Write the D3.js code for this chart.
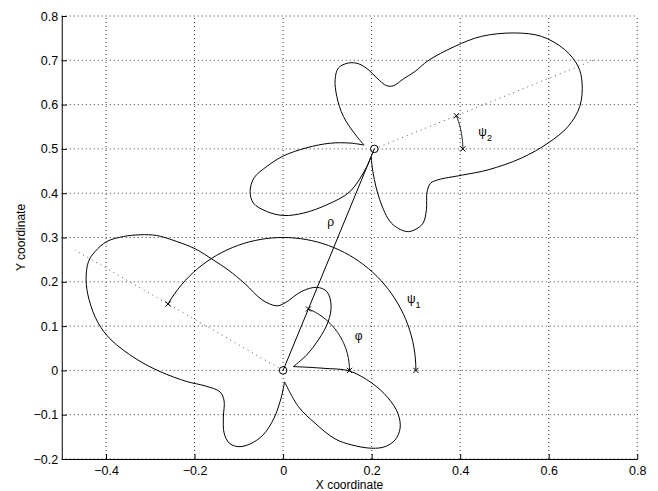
<!DOCTYPE html>
<html>
<head>
<meta charset="utf-8">
<script src="https://cdn.jsdelivr.net/npm/d3@7"></script>
<style>
body { margin: 0; background: #fff; }
text { font-family: "Liberation Sans", Arial, Helvetica, sans-serif; fill: #000; }
</style>
</head>
<body>
<div id="chart"></div>
<script>
var width = 658,
    height = 491;

// axis ticks
var xTicks = [-0.4, -0.2, 0, 0.2, 0.4, 0.6, 0.8];
var yTicks = [-0.2, -0.1, 0, 0.1, 0.2, 0.3, 0.4, 0.5, 0.6, 0.7, 0.8];

// pattern round (0,0): null A -> lower lobe -> main lobe -> small lobe -> null B
var pattern1Main = [
  [0.0034, -0.0260], [-0.0045, -0.0621], [-0.0203, -0.1073], [-0.0452, -0.1457],
  [-0.0745, -0.1660], [-0.1016, -0.1721], [-0.1220, -0.1638], [-0.1333, -0.1412],
  [-0.1349, -0.1050], [-0.1333, -0.0689], [-0.1423, -0.0486], [-0.1762, -0.0350],
  [-0.2169, -0.0253], [-0.2778, -0.0027], [-0.3321, 0.0260], [-0.3885, 0.0689],
  [-0.4179, 0.1073], [-0.4382, 0.1593], [-0.4450, 0.2044], [-0.4398, 0.2451],
  [-0.4247, 0.2684], [-0.3982, 0.2909], [-0.3607, 0.3022], [-0.3230, 0.3061],
  [-0.2853, 0.3045], [-0.2401, 0.2909], [-0.1988, 0.2745], [-0.1581, 0.2496],
  [-0.1242, 0.2270], [-0.0858, 0.1954], [-0.0474, 0.1593], [-0.0142, 0.1457],
  [0.0045, 0.1525], [0.0422, 0.1785], [0.0761, 0.1875], [0.0987, 0.1780],
  [0.1084, 0.1480], [0.1017, 0.1096], [0.0797, 0.0689], [0.0535, 0.0350],
  [0.0233, 0.0086]
];
// null B -> lower right lobe -> null A
var pattern1Side = [
  [0.0233, 0.0086], [0.0610, 0.0068], [0.0949, 0.0045], [0.1491, -0.0011],
  [0.1999, -0.0282], [0.2372, -0.0621], [0.2598, -0.0983], [0.2643, -0.1306],
  [0.2530, -0.1570], [0.2304, -0.1721], [0.2004, -0.1757], [0.1552, -0.1683],
  [0.1175, -0.1547], [0.0723, -0.1193], [0.0346, -0.0818], [0.0034, -0.0260]
];

// pattern round (0.206,0.5): null C -> upper lobe -> main lobe -> lower lobe -> null D
var pattern2Main = [
  [0.1830, 0.5087], [0.1665, 0.5281], [0.1362, 0.5733], [0.1213, 0.6185],
  [0.1175, 0.6562], [0.1249, 0.6826], [0.1475, 0.6939], [0.1701, 0.6923],
  [0.1927, 0.6788], [0.2117, 0.6601], [0.2342, 0.6426], [0.2492, 0.6426],
  [0.2717, 0.6578], [0.2982, 0.6750], [0.3275, 0.6991], [0.3879, 0.7314],
  [0.4479, 0.7540], [0.5234, 0.7617], [0.5835, 0.7540], [0.6363, 0.7240],
  [0.6664, 0.6863], [0.6754, 0.6487], [0.6702, 0.5959], [0.6438, 0.5507],
  [0.5986, 0.5132], [0.5383, 0.4793], [0.4631, 0.4527], [0.4028, 0.4405],
  [0.3501, 0.4303], [0.3332, 0.4224], [0.3253, 0.4032], [0.3237, 0.3625],
  [0.3162, 0.3325], [0.2975, 0.3174], [0.2785, 0.3135], [0.2446, 0.3325],
  [0.2184, 0.3851], [0.2033, 0.4455], [0.1988, 0.4822]
];
// null D -> lobe to the lower left -> null C
var pattern2Side = [
  [0.1988, 0.4822], [0.1875, 0.4570], [0.1513, 0.4039], [0.0987, 0.3738],
  [0.0459, 0.3551], [0.0007, 0.3497], [-0.0368, 0.3587], [-0.0671, 0.3777],
  [-0.0745, 0.4039], [-0.0655, 0.4348], [-0.0368, 0.4604], [0.0007, 0.4841],
  [0.0535, 0.5026], [0.1062, 0.5128], [0.1513, 0.5132], [0.1830, 0.5087]
];

// the two antenna positions
var originX = [0, 0.206];
var originY = [0, 0.5];

// angle arcs (all start at 0 degrees)
var arcOrigin = [0, 0, 1];
var arcRadius = [0.15, 0.3, 0.2];
var arcEnd = [67.6, 150, 22];

// dotted main-lobe directions
var rayOrigin = [0, 1];
var rayAngle = [150, 22];
var rayLength = [0.543, 0.54];

// symbols
var labelText = ["\u03c1", "\u03c6", "\u03c8", "\u03c8"];
var labelSub = ["", "", "1", "2"];
var labelX = [0.100, 0.162, 0.280, 0.441];
var labelY = [0.327, 0.069, 0.153, 0.530];

var margin = {left: 61.75, top: 16, right: 20.75, bottom: 32};

var x = d3.scaleLinear()
  .domain([-0.5, 0.8])
  .range([margin.left, width - margin.right]);

var y = d3.scaleLinear()
  .domain([-0.2, 0.8])
  .range([height - margin.bottom, margin.top]);

var svg = d3.select("#chart").append("svg")
  .attr("width", width)
  .attr("height", height);

var fmt = function(d) { return d === 0 ? "0" : d3.format(".1f")(d); };

// dotted grid
var grid = svg.append("g")
  .attr("stroke", "#222")
  .attr("stroke-width", 0.9)
  .attr("stroke-dasharray", "1,3");

grid.selectAll(".gx")
  .data(xTicks).enter()
  .append("line")
  .attr("x1", function(d) { return x(d); })
  .attr("x2", function(d) { return x(d); })
  .attr("y1", y(-0.2))
  .attr("y2", y(0.8));

grid.selectAll(".gy")
  .data(yTicks).enter()
  .append("line")
  .attr("x1", x(-0.5))
  .attr("x2", x(0.8))
  .attr("y1", function(d) { return y(d); })
  .attr("y2", function(d) { return y(d); });

// axes, ticks pointing inward
svg.append("g")
  .attr("transform", "translate(0," + y(-0.2) + ")")
  .call(d3.axisBottom(x).tickValues(xTicks).tickFormat(fmt)
    .tickSizeInner(-5).tickSizeOuter(0).tickPadding(7.5))
  .call(function(g) {
    g.selectAll("text").attr("font-size", 12.5).attr("font-family", null);
  });

svg.append("g")
  .attr("transform", "translate(" + x(-0.5) + ",0)")
  .call(d3.axisLeft(y).tickValues(yTicks).tickFormat(fmt)
    .tickSizeInner(-5).tickSizeOuter(0).tickPadding(3.5))
  .call(function(g) {
    g.selectAll("text").attr("font-size", 12.5).attr("font-family", null);
  });

svg.append("text")
  .attr("x", (x(-0.5) + x(0.8)) / 2)
  .attr("y", 489)
  .attr("text-anchor", "middle")
  .attr("font-size", 12)
  .text("X coordinate");

svg.append("text")
  .attr("transform", "translate(24.5," + (y(-0.2) + y(0.8)) / 2 + ") rotate(-90)")
  .attr("text-anchor", "middle")
  .attr("font-size", 12)
  .text("Y coordinate");

// dotted main-lobe directions
rayOrigin.forEach(function(o, i) {
  var a = rayAngle[i] * Math.PI / 180;
  svg.append("line")
    .attr("x1", x(originX[o]))
    .attr("y1", y(originY[o]))
    .attr("x2", x(originX[o] + rayLength[i] * Math.cos(a)))
    .attr("y2", y(originY[o] + rayLength[i] * Math.sin(a)))
    .attr("stroke", "#444")
    .attr("stroke-width", 0.9)
    .attr("stroke-dasharray", "1,4");
});

// patterns
var line = d3.line()
  .x(function(d) { return x(d[0]); })
  .y(function(d) { return y(d[1]); })
  .curve(d3.curveCatmullRom.alpha(0.5));

[pattern1Main, pattern1Side, pattern2Main, pattern2Side].forEach(function(p) {
  svg.append("path")
    .attr("d", line(p))
    .attr("fill", "none")
    .attr("stroke", "#000")
    .attr("stroke-width", 1);
});

// rho: line between the two antennas
svg.append("line")
  .attr("x1", x(originX[0])).attr("y1", y(originY[0]))
  .attr("x2", x(originX[1])).attr("y2", y(originY[1]))
  .attr("stroke", "#000")
  .attr("stroke-width", 1);

// angle arcs with x markers at both ends
var arcLine = d3.line()
  .x(function(d) { return x(d[0]); })
  .y(function(d) { return y(d[1]); });

function drawCross(px, py) {
  svg.append("path")
    .attr("d", "M" + (px - 2.6) + "," + (py - 2.6) + "L" + (px + 2.6) + "," + (py + 2.6) +
      "M" + (px - 2.6) + "," + (py + 2.6) + "L" + (px + 2.6) + "," + (py - 2.6))
    .attr("stroke", "#000")
    .attr("stroke-width", 1);
}

arcOrigin.forEach(function(o, i) {
  var pts = d3.range(0, arcEnd[i] + 0.001, arcEnd[i] / 60).map(function(deg) {
    var a = deg * Math.PI / 180;
    return [originX[o] + arcRadius[i] * Math.cos(a), originY[o] + arcRadius[i] * Math.sin(a)];
  });
  svg.append("path")
    .attr("d", arcLine(pts))
    .attr("fill", "none")
    .attr("stroke", "#000")
    .attr("stroke-width", 1);
  drawCross(x(pts[0][0]), y(pts[0][1]));
  drawCross(x(pts[pts.length - 1][0]), y(pts[pts.length - 1][1]));
});

// antenna positions
originX.forEach(function(ox, i) {
  svg.append("circle")
    .attr("cx", x(ox))
    .attr("cy", y(originY[i]))
    .attr("r", 3.8)
    .attr("fill", "none")
    .attr("stroke", "#000")
    .attr("stroke-width", 1);
});

// symbols
labelText.forEach(function(t, i) {
  var txt = svg.append("text")
    .attr("x", x(labelX[i]))
    .attr("y", y(labelY[i]))
    .attr("font-size", 12)
    .text(t);
  if (labelSub[i]) {
    txt.append("tspan")
      .attr("dy", 5)
      .attr("font-size", 9)
      .text(labelSub[i]);
  }
});
</script>
</body>
</html>
